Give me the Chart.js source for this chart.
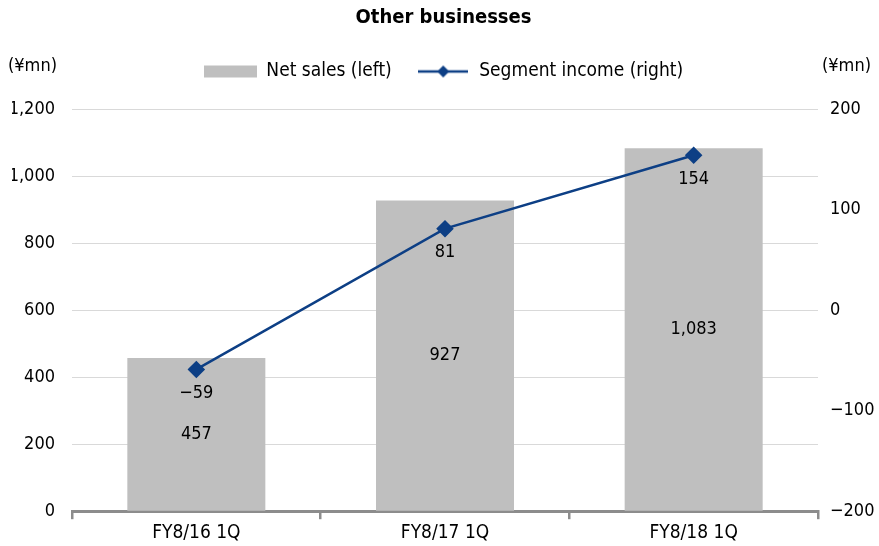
<!DOCTYPE html>
<html lang="en">
<head>
<meta charset="UTF-8">
<title>Other businesses</title>
<script src="https://cdn.jsdelivr.net/npm/chart.js"></script>
<style>
  html, body { margin: 0; padding: 0; background: #ffffff; }
  #wrap { position: relative; width: 879px; height: 546px; }
</style>
</head>
<body>
<div id="wrap"><canvas id="chart" width="879" height="546"></canvas></div>
<script>
const categories = ['FY8/16 1Q', 'FY8/17 1Q', 'FY8/18 1Q'];
const netSales = [457, 927, 1083];
const segmentIncome = [-59, 81, 154];
const salesTicks = [0, 1200, 200];    // min, max, step
const incomeTicks = [-200, 200, 100];

const FONT = "'DejaVu Sans Condensed', 'Liberation Sans Narrow', Arial, sans-serif";
const BAR_COLOR = '#bfbfbf';
const LINE_COLOR = '#0d3f85';
const fmt = v => (v < 0 ? '\u2212' : '') + Math.abs(v).toLocaleString('en-US');

// small swatches for the legend
function swatch(w, draw) {
    const c = document.createElement('canvas');
    c.width = w; c.height = 14;
    draw(c.getContext('2d'));
    return c;
}
const barSwatch = swatch(53, ctx => { ctx.fillStyle = BAR_COLOR; ctx.fillRect(0, 1, 53, 12); });
const lineSwatch = swatch(50, ctx => {
    ctx.strokeStyle = LINE_COLOR; ctx.lineWidth = 2.5;
    ctx.beginPath(); ctx.moveTo(0, 7); ctx.lineTo(50, 7); ctx.stroke();
    ctx.fillStyle = LINE_COLOR;
    ctx.beginPath(); ctx.moveTo(25, 1); ctx.lineTo(31, 7); ctx.lineTo(25, 13); ctx.lineTo(19, 7); ctx.closePath(); ctx.fill();
});

// value labels and the unit captions
const extras = {
    id: 'extras',
    afterDatasetsDraw(chart) {
        const ctx = chart.ctx;
        ctx.save();
        ctx.font = '18px ' + FONT;
        ctx.fillStyle = '#000';
        ctx.textAlign = 'center';
        ctx.textBaseline = 'middle';
        chart.getDatasetMeta(0).data.forEach((el, i) => {
            ctx.fillText(fmt(netSales[i]), el.x, (el.y + el.base) / 2);
        });
        chart.getDatasetMeta(1).data.forEach((el, i) => {
            ctx.fillText(fmt(segmentIncome[i]), el.x, el.y + 24);
        });
        ctx.textAlign = 'left';
        ctx.fillText('(\u00a5mn)', 8, 66);
        ctx.fillText('(\u00a5mn)', 822, 66);
        ctx.restore();
    }
};

new Chart(document.getElementById('chart'), {
    data: {
        labels: categories,
        datasets: [
            {
                type: 'bar', label: 'Net sales (left)', data: netSales,
                backgroundColor: BAR_COLOR, yAxisID: 'y',
                barPercentage: 0.555, categoryPercentage: 1, order: 1
            },
            {
                type: 'line', label: 'Segment income (right)', data: segmentIncome,
                borderColor: LINE_COLOR, backgroundColor: LINE_COLOR, borderWidth: 2.5,
                pointStyle: 'rectRot', pointRadius: 7, pointHoverRadius: 7,
                yAxisID: 'y1', tension: 0, order: 0
            }
        ]
    },
    options: {
        responsive: false,
        animation: false,
        layout: { padding: { top: 6, right: 4, left: 12, bottom: 0 } },
        plugins: {
            title: {
                display: true, text: 'Other businesses', color: '#000',
                font: { family: FONT, size: 20, weight: 'bold' },
                padding: { top: 0, bottom: 7 }
            },
            // empty spacer between the legend and the plot
            subtitle: {
                display: true, text: ' ', weight: 500,
                font: { size: 18, lineHeight: 1 }, padding: 0
            },
            legend: {
                position: 'top',
                labels: {
                    usePointStyle: true, pointStyleWidth: 53, boxHeight: 14,
                    color: '#000', font: { family: FONT, size: 19 }, padding: 25,
                    generateLabels: () => [
                        { text: 'Net sales (left)', pointStyle: barSwatch, datasetIndex: 0, lineWidth: 0 },
                        { text: 'Segment income (right)', pointStyle: lineSwatch, datasetIndex: 1, lineWidth: 0 }
                    ]
                }
            },
            tooltip: { enabled: false }
        },
        scales: {
            x: {
                grid: { drawOnChartArea: false, drawTicks: true, tickLength: 8, color: '#8c8c8c', lineWidth: 2.5 },
                border: { display: true, color: '#8c8c8c', width: 3 },
                ticks: { color: '#000', font: { family: FONT, size: 19 }, padding: 2 }
            },
            y: {
                position: 'left', min: salesTicks[0], max: salesTicks[1],
                ticks: { stepSize: salesTicks[2], color: '#000', font: { family: FONT, size: 18 }, padding: 17, callback: v => fmt(v) },
                grid: { color: '#d9d9d9', drawTicks: false },
                border: { display: false },
                afterFit: s => { s.width = 60; }
            },
            y1: {
                position: 'right', min: incomeTicks[0], max: incomeTicks[1],
                ticks: { stepSize: incomeTicks[2], color: '#000', font: { family: FONT, size: 18 }, padding: 12, callback: v => fmt(v) },
                grid: { display: false, drawTicks: false },
                border: { display: false },
                afterFit: s => { s.width = 57; }
            }
        }
    },
    plugins: [extras]
});
</script>
</body>
</html>
